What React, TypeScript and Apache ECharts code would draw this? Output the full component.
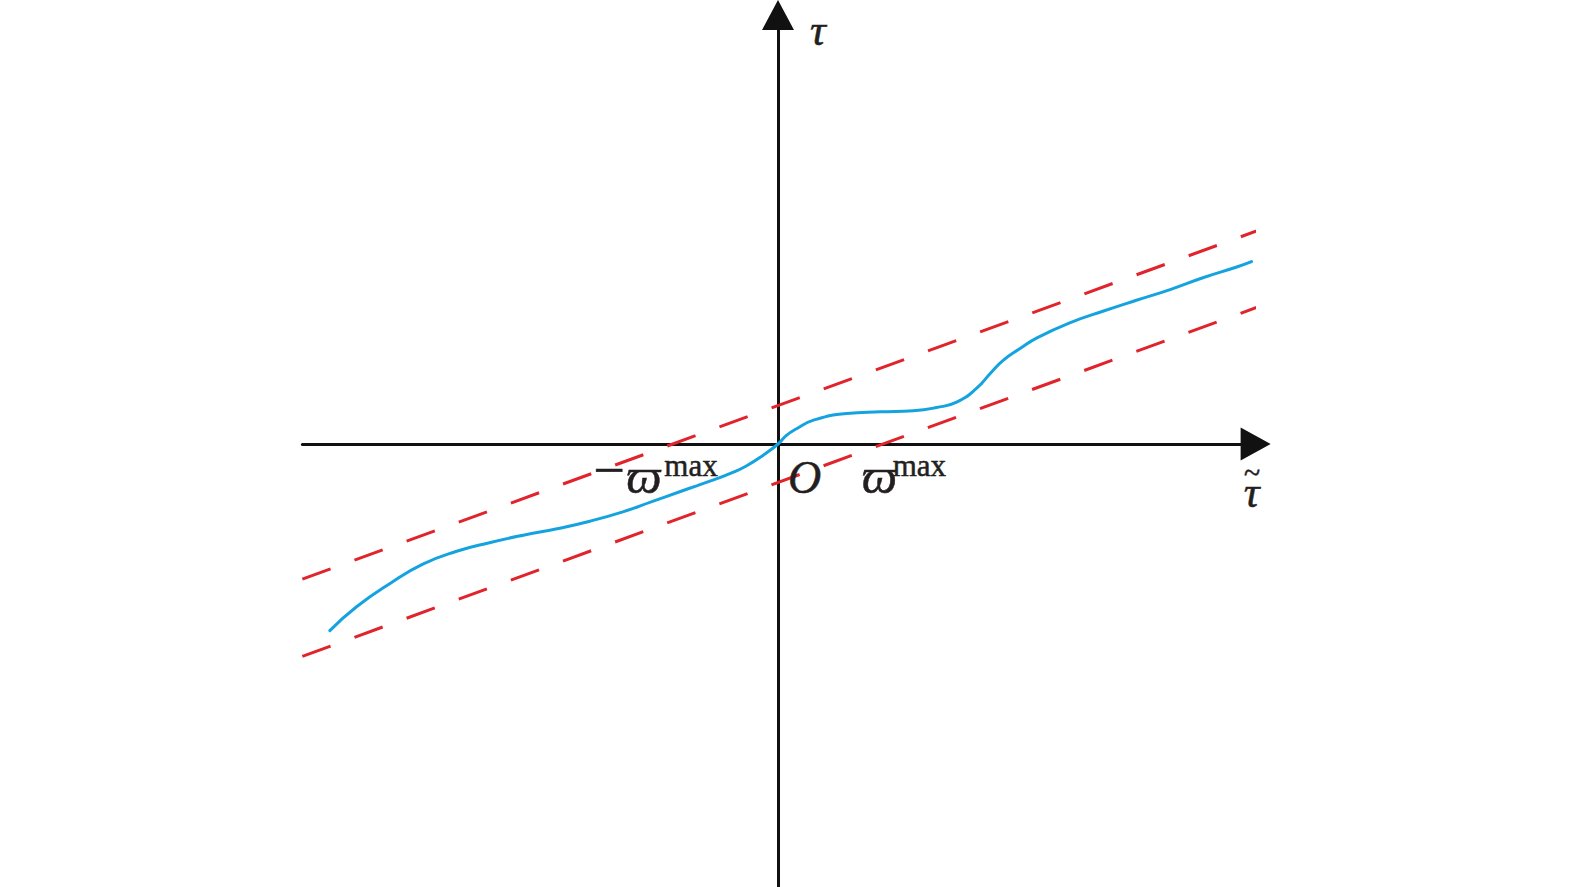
import React, { useEffect, useRef } from "react";
import * as echarts from "echarts";

// Curve τ(τ̃) (units: ϖ^max = 1 on the τ̃ axis)
const curveTauTilde = [-4.24, -3.99, -3.67, -3.36, -3.04, -2.73, -2.41, -2.09, -1.78, -1.46, -1.2, -0.93, -0.77, -0.61, -0.45, -0.3, -0.14, 0, 0.08, 0.18, 0.33, 0.65, 0.97, 1.28, 1.5, 1.69, 1.88, 2.01, 2.13, 2.29, 2.45, 2.76, 3.08, 3.39, 3.71, 4.02, 4.34, 4.48];
const curveTau = [-1.74, -1.52, -1.3, -1.12, -1.0, -0.92, -0.85, -0.79, -0.72, -0.63, -0.54, -0.445, -0.39, -0.335, -0.275, -0.205, -0.105, 0, 0.08, 0.145, 0.22, 0.285, 0.3, 0.31, 0.34, 0.39, 0.52, 0.66, 0.78, 0.89, 0.99, 1.13, 1.24, 1.34, 1.44, 1.55, 1.65, 1.7];

// Dashed bounds (end points)
const upperBoundTauTilde = [-4.5, 4.65];
const upperBoundTau = [-1.26, 2.03];
const lowerBoundTauTilde = [-4.5, 4.63];
const lowerBoundTau = [-1.98, 1.31];

// Axis ranges
const xRange = [-4.5, 4.5];
const yRange = [-4.13, 4];

// Annotation anchors and texts
const omegaMax = 1;
const minusText = "−";
const varpiText = "ϖ";
const supText = "max";
const originText = "O";
const xNameText = "{t|~}\n{g|τ}";
const yNameText = "τ";

const SERIF = "'Liberation Serif', 'DejaVu Serif', 'Times New Roman', serif";
const BLUE = "#14A3DF";
const RED = "#E1232B";
const AXIS = "#111111";
const INK = "#231F20";

export default function App() {
  const ref = useRef<HTMLDivElement>(null);
  useEffect(() => {
    if (!ref.current) return;
    const chart = echarts.init(ref.current, undefined, { renderer: "svg" });
    const W = 1575;
    const H = 887;
    const originX = 778;
    const originY = 444;
    const kx = 105.7;
    const ky = 107.25;
    const gridLeft = originX + xRange[0] * kx;
    const gridRight = W - (originX + xRange[1] * kx);
    const gridTop = originY - yRange[1] * ky;
    const gridBottom = Math.max(0, H - (originY - yRange[0] * ky));

    const curve = curveTauTilde.map((x, i) => [x, curveTau[i]]);
    const upper = upperBoundTauTilde.map((x, i) => [x, upperBoundTau[i]]);
    const lower = lowerBoundTauTilde.map((x, i) => [x, lowerBoundTau[i]]);

    const lab = (text: string, fontSize: number, italic: boolean, position: number[], extra: any = {}) => ({
      show: true,
      formatter: text,
      align: "left" as const,
      verticalAlign: "top" as const,
      fontFamily: SERIF,
      fontSize,
      fontStyle: italic ? "italic" : "normal",
      color: INK,
      opacity: 1,
      textBorderColor: INK,
      textBorderWidth: 0.5,
      position,
      ...extra,
    });

    chart.setOption({
      animation: false,
      backgroundColor: "#ffffff",
      grid: { left: gridLeft, right: gridRight, top: gridTop, bottom: gridBottom, containLabel: false },
      xAxis: {
        type: "value",
        min: xRange[0],
        max: xRange[1],
        axisLine: {
          show: true,
          onZero: true,
          symbol: ["none", "triangle"],
          symbolSize: [33, 30],
          symbolOffset: [0, 2],
          lineStyle: { color: AXIS, width: 3 },
        },
        axisTick: { show: false },
        axisLabel: { show: false },
        splitLine: { show: false },
      },
      yAxis: {
        type: "value",
        min: yRange[0],
        max: yRange[1],
        axisLine: {
          show: true,
          onZero: true,
          symbol: ["none", "triangle"],
          symbolSize: [32, 30],
          lineStyle: { color: AXIS, width: 3 },
        },
        axisTick: { show: false },
        axisLabel: { show: false },
        splitLine: { show: false },
      },
      series: [
        {
          type: "line",
          data: upper,
          symbol: "none",
          clip: false,
          silent: true,
          lineStyle: { color: RED, width: 3, type: [30, 25.5] },
          z: 3,
        },
        {
          type: "line",
          data: lower,
          symbol: "none",
          clip: false,
          silent: true,
          lineStyle: { color: RED, width: 3, type: [30, 25.5] },
          z: 3,
        },
        {
          type: "line",
          data: curve,
          symbol: "none",
          smooth: 0.5,
          clip: false,
          silent: true,
          lineStyle: { color: BLUE, width: 3, cap: "round" },
          z: 4,
        },
        {
          type: "scatter",
          symbolSize: 0,
          silent: true,
          clip: false,
          itemStyle: { opacity: 1 },
          z: 5,
          data: [
            { value: [-omegaMax, 0], label: lab(minusText, 56, false, [-79, -2]) },
            { value: [-omegaMax, 0], label: lab(varpiText, 50, true, [-46, 7]) },
            { value: [-omegaMax, 0], label: lab(supText, 31, false, [-8, 6]) },
            { value: [omegaMax, 0], label: lab(varpiText, 50, true, [-22, 7]) },
            { value: [omegaMax, 0], label: lab(supText, 31, false, [9, 6]) },
            { value: [0, 0], label: lab(originText, 46, true, [10, 10]) },
            {
              value: [xRange[1], 0],
              label: lab(xNameText, 44, true, [-2, 22], {
                align: "center",
                rich: {
                  t: { fontSize: 30, fontStyle: "italic", fontFamily: SERIF, color: INK, lineHeight: 13, align: "center" },
                  g: { fontSize: 44, fontStyle: "italic", fontFamily: SERIF, color: INK, lineHeight: 27, align: "center" },
                },
              }),
            },
            { value: [0, yRange[1]], label: lab(yNameText, 44, true, [32, -7]) },
          ],
        },
      ],
    });
    return () => chart.dispose();
  }, []);
  return (
    <div
      ref={ref}
      style={{ position: "fixed", left: 0, top: 0, width: 1575, height: 887, background: "#fff" }}
    />
  );
}
